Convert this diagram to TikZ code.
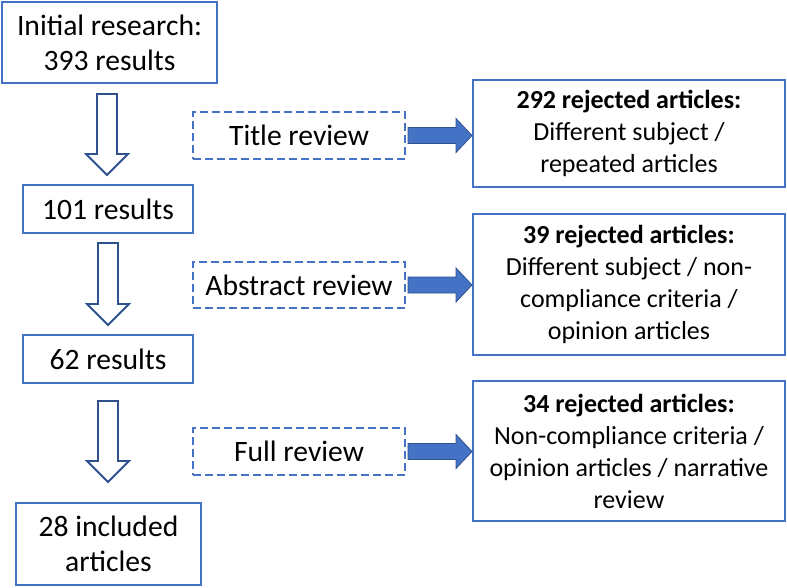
\documentclass[tikz,border=0pt]{standalone}
\usepackage{fontspec}
\setmainfont{Carlito}
\usetikzlibrary{calc}
\definecolor{boxblue}{HTML}{4472C4}
\definecolor{darkblue}{HTML}{2F528F}
\tikzset{
  mainbox/.style={draw=boxblue, line width=2pt, rectangle, align=center, inner sep=0pt,
    font=\fontsize{29.6}{35}\selectfont},
  reviewbox/.style={mainbox, dash pattern=on 8pt off 4pt},
  rejectbox/.style={mainbox, font=\fontsize{26}{32}\selectfont},
  hollow/.style={draw=darkblue, line width=1.8pt, fill=white, line join=miter},
  bluearrow/.style={draw=darkblue, line width=0.8pt, fill=boxblue, line join=miter}
}
\newcommand\hollowdown[2]{%
  \draw[hollow] let \p1=(#1), \p2=(#2) in
    (\x2-10pt,\y1) -- (\x2+10pt,\y1) -- (\x2+10pt,\y2+21pt) -- (\x2+21pt,\y2+21pt)
    -- (\x2,\y2) -- (\x2-21pt,\y2+21pt) -- (\x2-10pt,\y2+21pt) -- cycle;}
\newcommand\blueright[2]{%
  \draw[bluearrow] let \p1=(#1), \p2=(#2) in
    (\x1+2pt,\y1+8pt) -- (\x2-16pt,\y1+8pt) -- (\x2-16pt,\y1+17pt) -- (\x2,\y1)
    -- (\x2-16pt,\y1-17pt) -- (\x2-16pt,\y1-8pt) -- (\x1+2pt,\y1-8pt) -- cycle;}
\begin{document}
\begin{tikzpicture}[x=1pt,y=-1pt]
\useasboundingbox[fill=white] (0,0) rectangle (787,587);
% left column
\node[mainbox, minimum width=215pt, minimum height=81pt] (b1) at (109.5,42.5) {Initial research:\\393 results};
\node[mainbox, minimum width=170pt, minimum height=48pt] (b2) at (108,209) {101 results};
\node[mainbox, minimum width=170pt, minimum height=48pt] (b3) at (108,359) {62 results};
\node[mainbox, minimum width=185pt, minimum height=82pt] (b4) at (108.5,544) {28 included\\articles};
% review boxes
\node[reviewbox, minimum width=212pt, minimum height=47pt] (t1) at (299,135.5) {Title review};
\node[reviewbox, minimum width=212pt, minimum height=46pt] (t2) at (299,285) {Abstract review};
\node[reviewbox, minimum width=212pt, minimum height=47pt] (t3) at (299,451.5) {Full review};
% rejected boxes
\node[rejectbox, minimum width=312pt, minimum height=107pt] (r1) at (629,133.5)
  {\textbf{292 rejected articles:}\\Different subject /\\repeated articles};
\node[rejectbox, minimum width=312pt, minimum height=141pt] (r2) at (629,284.5)
  {\textbf{39 rejected articles:}\\Different subject / non-\\compliance criteria /\\opinion articles};
\node[rejectbox, minimum width=312pt, minimum height=140pt] (r3) at (629,451)
  {\textbf{34 rejected articles:}\\Non-compliance criteria /\\opinion articles / narrative\\review};
% hollow down arrows
\hollowdown{$(b1.south)+(0,10)$}{$(b2.north)+(-1,-9)$}
\hollowdown{$(b2.south)+(0,9)$}{$(b3.north)+(0,-9)$}
\hollowdown{$(b3.south)+(0,17)$}{$(b4.north)+(-0.5,-20)$}
% blue arrows
\blueright{t1.east}{r1.west}
\blueright{t2.east}{r2.west}
\blueright{t3.east}{r3.west}
\end{tikzpicture}
\end{document}
